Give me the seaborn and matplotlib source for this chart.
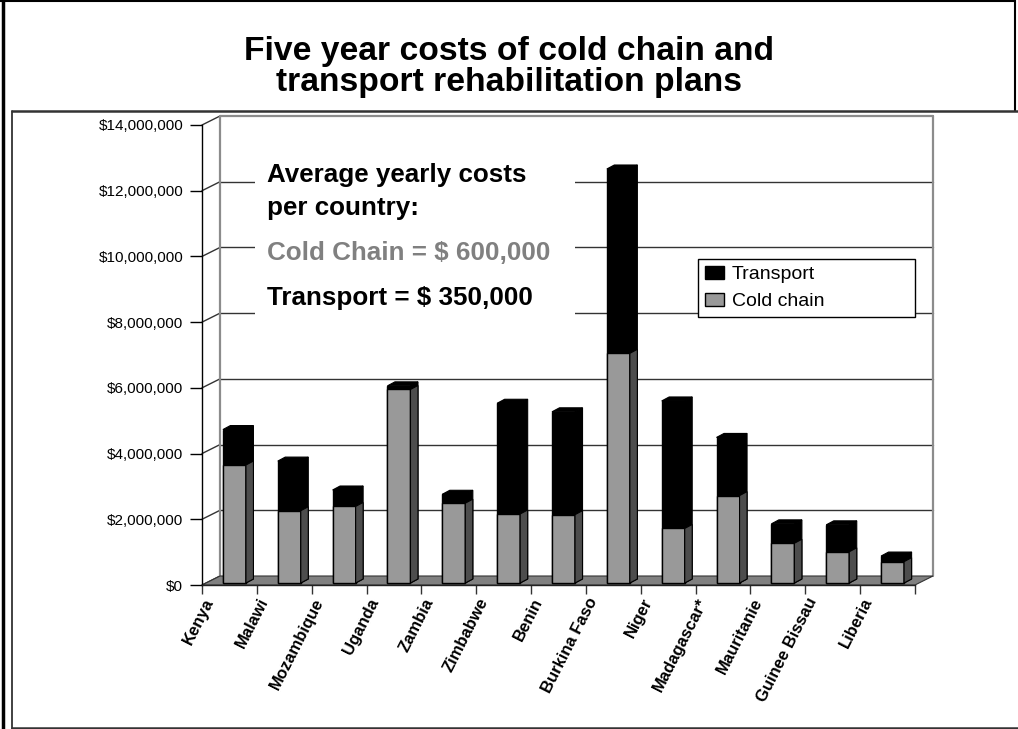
import numpy as np
import pandas as pd
import matplotlib
matplotlib.use("Agg")
import matplotlib.pyplot as plt
import seaborn as sns
from matplotlib.patches import Polygon, Rectangle
from matplotlib.lines import Line2D
from matplotlib.transforms import offset_copy

# ---------------- data ----------------
countries = ["Kenya", "Malawi", "Mozambique", "Uganda", "Zambia", "Zimbabwe", "Benin",
             "Burkina Faso", "Niger", "Madagascar*", "Mauritanie", "Guinee Bissau", "Liberia"]
cold_chain = [3.59e6, 2.20e6, 2.33e6, 5.89e6, 2.43e6, 2.10e6, 2.08e6,
              6.99e6, 1.66e6, 2.66e6, 1.21e6, 0.95e6, 0.65e6]
transport = [1.08e6, 1.51e6, 0.50e6, 0.11e6, 0.27e6, 3.37e6, 3.13e6,
             5.61e6, 3.88e6, 1.77e6, 0.59e6, 0.82e6, 0.17e6]
y_ticks = [0, 2e6, 4e6, 6e6, 8e6, 10e6, 12e6, 14e6]
y_tick_labels = ["$" + format(int(v), ",") for v in y_ticks]
series_names = ["Transport", "Cold chain"]
title_lines = ["Five year costs of cold chain and", "transport rehabilitation plans"]
note_lines = ["Average yearly costs", "per country:", "Cold Chain = $ 600,000", "Transport = $ 350,000"]

df = pd.DataFrame({"country": countries, "cold": cold_chain, "transport": transport})
df["total"] = df["cold"] + df["transport"]

# ---------------- style ----------------
sns.set_style("white")
plt.rcParams["font.family"] = ["Liberation Sans", "DejaVu Sans"]
plt.rcParams["text.color"] = "black"
plt.rcParams["xtick.color"] = "black"
plt.rcParams["ytick.color"] = "black"
plt.rcParams["axes.labelcolor"] = "black"

W, H = 1018, 729
fig = plt.figure(figsize=(W / 100, H / 100), dpi=100)

def fx(px):
    return px / W

def fy(py):
    return 1 - py / H

# front plane of the 3D axes
ax_l, ax_r, ax_t, ax_b = 202, 915, 125, 585
ax = fig.add_axes([fx(ax_l), fy(ax_b), (ax_r - ax_l) / W, (ax_b - ax_t) / H])
ax.patch.set_alpha(0)

n = len(countries)
xmin, xmax = -0.5, n - 0.5
ymax = 14e6
sx = (xmax - xmin) / (ax_r - ax_l)   # data units per pixel (x)
sy = ymax / (ax_b - ax_t)            # data units per pixel (y)
DX, DY = 18 * sx, 9 * sy             # wall depth
GRAY = "#999999"
DARK = "#4d4d4d"

# ---------------- bars ----------------
sns.barplot(data=df, x="country", y="total", color="black", width=0.42, saturation=1,
            edgecolor="black", linewidth=1, errorbar=None, ax=ax)
sns.barplot(data=df, x="country", y="cold", color=GRAY, width=0.42, saturation=1,
            edgecolor="black", linewidth=1, errorbar=None, ax=ax)

bar_tr = offset_copy(ax.transData, fig=fig, x=5, y=2, units="dots")
tot_bars = list(ax.containers[0])
cold_bars = list(ax.containers[1])
for r in tot_bars + cold_bars:
    r.set_transform(bar_tr)
    r.set_zorder(3)
    r.set_clip_on(False)

bdx, bdy = 7.5 * sx, 4 * sy
for bars, fc in ((tot_bars, "black"), (cold_bars, DARK)):
    for r in bars:
        x0 = r.get_x(); x1 = x0 + r.get_width()
        y0 = r.get_y(); y1 = y0 + r.get_height()
        ax.add_patch(Polygon([(x1, y0), (x1 + bdx, y0 + bdy), (x1 + bdx, y1 + bdy), (x1, y1)],
                             closed=True, facecolor=fc, edgecolor="black", lw=0.8,
                             transform=bar_tr, zorder=3, clip_on=False))
for r in tot_bars:
    x0 = r.get_x(); x1 = x0 + r.get_width()
    y1 = r.get_y() + r.get_height()
    ax.add_patch(Polygon([(x0, y1), (x1, y1), (x1 + bdx, y1 + bdy), (x0 + bdx, y1 + bdy)],
                         closed=True, facecolor="black", edgecolor="black", lw=0.8,
                         transform=bar_tr, zorder=3, clip_on=False))

# ---------------- 3D walls ----------------
ax.add_patch(Polygon([(xmin, 0), (xmax, 0), (xmax + DX, DY), (xmin + DX, DY)], closed=True,
                     facecolor="#808080", edgecolor="#333333", lw=0.8, zorder=1, clip_on=False))
for v in y_ticks:
    ax.plot([xmin, xmin + DX], [v, v + DY], color="#333333", lw=1, zorder=0.5, clip_on=False)
    if 0 < v < ymax:
        ax.plot([xmin + DX, xmax + DX], [v + DY, v + DY], color="#333333", lw=1,
                zorder=0.5, clip_on=False)
ax.plot([xmin + DX, xmax + DX], [ymax + DY] * 2, color="#8c8c8c", lw=1.6, zorder=0.6, clip_on=False)
ax.plot([xmin + DX] * 2, [DY, ymax + DY], color="#8c8c8c", lw=1.6, zorder=0.6, clip_on=False)
ax.plot([xmax + DX] * 2, [DY, ymax + DY], color="#8c8c8c", lw=1.6, zorder=0.6, clip_on=False)

# ---------------- axes / ticks ----------------
ax.set_xlim(xmin, xmax)
ax.set_ylim(0, ymax)
ax.set_xlabel("")
ax.set_ylabel("")
for s in ("top", "right"):
    ax.spines[s].set_visible(False)
ax.spines["left"].set_color("black")
ax.spines["bottom"].set_color("#222222")
ax.spines["left"].set_linewidth(1)
ax.spines["bottom"].set_linewidth(1)

ax.set_yticks(y_ticks, labels=y_tick_labels)
ax.tick_params(axis="y", length=8.6, width=1, color="black", labelcolor="black", pad=5,
               labelsize=11, left=True, direction="out")

ax.set_xticks(np.arange(xmin, xmax + 0.01, 1.0), labels=[""] * (n + 1))
ax.tick_params(axis="x", which="major", length=6.5, width=1, color="#333333",
               bottom=True, direction="out")
ax.set_xticks([i - 0.5 + 8 * sx for i in range(n)], labels=countries, minor=True)
ax.tick_params(axis="x", which="minor", length=0, pad=10, labelcolor="black")
for lbl in ax.get_xticklabels(minor=True):
    lbl.set_rotation(63)
    lbl.set_ha("right")
    lbl.set_va("center")
    lbl.set_rotation_mode("anchor")
    lbl.set_fontweight("bold")
    lbl.set_fontsize(12)

# ---------------- legend ----------------
leg = ax.legend(handles=[ax.containers[0], ax.containers[1]], labels=series_names,
                loc="center", mode="expand",
                bbox_to_anchor=(fx(698), fy(319), 217 / W, 62 / H),
                bbox_transform=fig.transFigure, borderaxespad=0,
                fontsize=14, handlelength=1.0, handleheight=0.7, handletextpad=0.4,
                borderpad=0.35, labelspacing=0.5, fancybox=False, framealpha=1,
                edgecolor="black")
leg.get_frame().set_linewidth(1)
leg.set_zorder(6)
for t in leg.get_texts():
    t.set_color("black")

# ---------------- annotation block ----------------
fig.add_artist(Rectangle((fx(255), fy(330)), 320 / W, 185 / H, transform=fig.transFigure,
                         facecolor="white", edgecolor="none", zorder=2))
note_y = [181.7, 215, 260, 305]
note_c = ["black", "black", "#808080", "black"]
for txt, yy, c in zip(note_lines, note_y, note_c):
    fig.text(fx(267), fy(yy), txt, fontsize=18.7, fontweight="bold", color=c,
             ha="left", va="baseline", zorder=3)

# ---------------- title ----------------
fig.text(fx(509), fy(60), title_lines[0], fontsize=24.2, fontweight="bold",
         ha="center", va="baseline", color="black")
fig.text(fx(509), fy(91), title_lines[1], fontsize=24.2, fontweight="bold",
         ha="center", va="baseline", color="black")

# ---------------- frame ----------------
def fline(x0, y0, x1, y1, lw, c="black"):
    fig.add_artist(Line2D([fx(x0), fx(x1)], [fy(y0), fy(y1)], color=c, lw=lw,
                          transform=fig.transFigure, zorder=10))

fline(0, 1, 1015, 1, 1.5)
fline(1015, 0, 1015, 111, 1.5)
fline(3, 0, 3, 729, 2.5)
fline(12, 111, 1018, 111, 1.8, "#333333")
fline(12, 111, 12, 729, 1.3, "#333333")
fline(12, 728, 1018, 728, 1.8, "#333333")

fig.savefig("out.png", dpi=100)
